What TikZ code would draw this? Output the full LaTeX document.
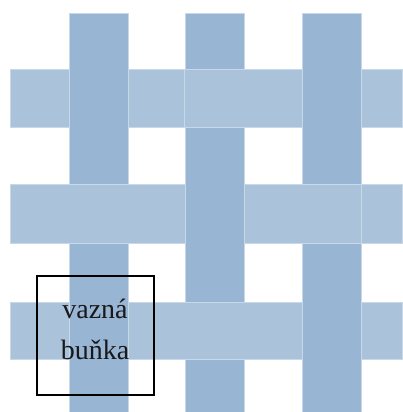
\documentclass[tikz,border=0pt]{standalone}
\usepackage{fontspec}
\setmainfont{Liberation Serif}
\definecolor{colstrip}{RGB}{152,181,211}
\definecolor{rowstrip}{RGB}{170,195,219}
\definecolor{edgelt}{RGB}{200,216,232}
\begin{document}
\begin{tikzpicture}[x=1pt,y=-1pt,
  colbar/.style={fill=colstrip,draw=edgelt,line width=0.4pt},
  rowbar/.style={fill=rowstrip,draw=edgelt,line width=0.4pt},
  lbl/.style={font=\fontsize{28}{31}\selectfont,anchor=base,inner sep=0pt,text=black!90}]
\useasboundingbox[fill=white] (0,0) rectangle (402,412);
% rows (horizontal strips)
\fill[rowbar] (10.5,69) rectangle (402,127);
\fill[rowbar] (10.5,184) rectangle (402,243);
\fill[rowbar] (10.5,302) rectangle (402,359);
% columns (vertical strips)
\fill[colbar] (69,13) rectangle (128,412);
\fill[colbar] (185,13) rectangle (244,412);
\fill[colbar] (302,13) rectangle (361,412);
% rows passing over columns
\fill[rowbar] (184,69) rectangle (302,127);
\fill[rowbar] (10.5,184) rectangle (185,243);
\fill[rowbar] (244,184) rectangle (361,243);
\fill[rowbar] (128,302) rectangle (302,359);
% cell box
\node[draw=black,line width=2pt,minimum width=117pt,minimum height=119pt,inner sep=0pt] (cell) at (95,335.5) {};
\node[lbl] (t1) at (95,318) {vazná};
\node[lbl] (t2) at (95,359) {buňka};
\end{tikzpicture}
\end{document}
